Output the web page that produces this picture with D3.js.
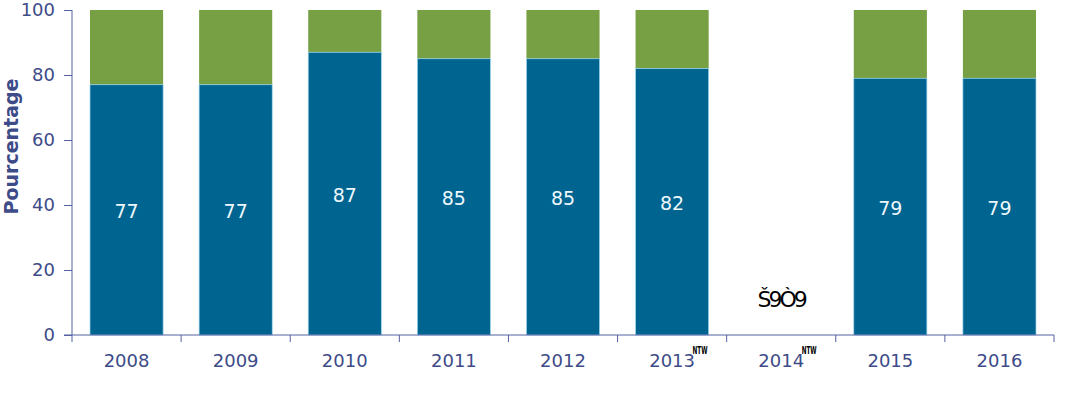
<!DOCTYPE html>
<html>
<head>
<meta charset="utf-8">
<script src="https://cdn.jsdelivr.net/npm/d3@7"></script>
<style>
  body { margin: 0; background: #fff; }
  text { font-family: "DejaVu Sans", Verdana, sans-serif; }
</style>
</head>
<body>
<div id="chart"></div>
<script>
// data
const years = ["2008", "2009", "2010", "2011", "2012", "2013", "2014", "2015", "2016"];
const notes = ["", "", "", "", "", "NTW", "NTW", "", ""];
const mainValues = [77, 77, 87, 85, 85, 82, null, 79, 79];
const yTicks = [0, 20, 40, 60, 80, 100];
const missingLabel = "Š9Ò9";

const margin = {top: 10, right: 15, bottom: 72, left: 72},
    width = 1069 - margin.left - margin.right,
    height = 407 - margin.top - margin.bottom;

const blue = "#006490", green = "#76a043", axisColor = "#3d4b88", tickColor = "#5560a0";

const svg = d3.select("#chart")
  .append("svg")
    .attr("width", 1069)
    .attr("height", 407)
  .append("g")
    .attr("transform", `translate(${margin.left},${margin.top})`);

const x = d3.scaleBand()
  .domain(years)
  .range([0, width])
  .paddingInner(0.33)
  .paddingOuter(0.165);

const y = d3.scaleLinear()
  .domain([0, 100])
  .range([height, 0]);

const rows = years.map((yr, i) => ({year: yr, v: mainValues[i], note: notes[i]}));
const bars = rows.filter(d => d.v !== null);

// green remainder on top
svg.append("g")
  .selectAll("rect")
  .data(bars)
  .join("rect")
    .attr("x", d => x(d.year))
    .attr("y", y(100))
    .attr("width", x.bandwidth())
    .attr("height", d => y(d.v) - y(100))
    .attr("fill", green);

// blue main part
svg.append("g")
  .selectAll("rect")
  .data(bars)
  .join("rect")
    .attr("x", d => x(d.year))
    .attr("y", d => y(d.v))
    .attr("width", x.bandwidth())
    .attr("height", d => y(0) - y(d.v))
    .attr("fill", blue)
    .attr("stroke", "#9fd8ef")
    .attr("stroke-width", 0.7);

svg.append("g")
  .selectAll("text")
  .data(bars)
  .join("text")
    .attr("x", d => x(d.year) + x.bandwidth() / 2)
    .attr("y", d => (y(d.v) + y(0)) / 2 + 1.5)
    .attr("dy", "0.35em")
    .attr("text-anchor", "middle")
    .attr("fill", "#eef8fc")
    .style("font-size", "19px")
    .text(d => d.v);

// label for the missing year
svg.append("text")
  .attr("x", x("2014") + x.bandwidth() / 2)
  .attr("y", y(11))
  .attr("dy", "0.35em")
  .attr("text-anchor", "middle")
  .attr("fill", "#000")
  .style("font-size", "22px")
  .style("letter-spacing", "-3px")
  .text(missingLabel);

// y axis
const yAxis = svg.append("g")
  .call(d3.axisLeft(y).tickValues(yTicks).tickSize(7).tickSizeOuter(0));
yAxis.select(".domain").attr("stroke", tickColor).attr("d", `M0,${height + 7}V0`);
yAxis.selectAll(".tick line").attr("stroke", tickColor).attr("x1", -8).attr("x2", 0);
yAxis.selectAll(".tick text")
  .attr("fill", axisColor)
  .attr("x", -17)
  .style("font-size", "18px");

// x axis
const xAxis = svg.append("g")
  .attr("transform", `translate(0,${height})`)
  .call(d3.axisBottom(x).tickSize(0).tickSizeOuter(0));
xAxis.select(".domain").attr("stroke", tickColor).attr("d", `M-8,0H${width}`);
xAxis.selectAll(".tick text")
  .attr("fill", axisColor)
  .attr("y", 19)
  .attr("dy", "0.71em")
  .style("font-size", "18px");

// category separators
const step = x.step(), gap = step * x.paddingInner() / 2;
svg.append("g")
  .selectAll("line")
  .data(years.slice(1).map(d => x(d) - gap).concat([width]))
  .join("line")
    .attr("x1", d => d)
    .attr("x2", d => d)
    .attr("y1", height)
    .attr("y2", height + 7)
    .attr("stroke", tickColor);

// superscript notes, placed after each year label
xAxis.selectAll(".tick")
  .filter(d => notes[years.indexOf(d)])
  .each(function(d) {
    const t = d3.select(this);
    const w = t.select("text").node().getComputedTextLength();
    t.append("text")
      .attr("x", w / 2 + 5)
      .attr("y", 19)
      .attr("fill", "#000")
      .style("font-size", "11px")
      .style("font-weight", "bold")
      .style("font-family", "'DejaVu Sans Condensed', 'Liberation Sans Narrow', sans-serif")
      .attr("textLength", 15)
      .attr("lengthAdjust", "spacingAndGlyphs")
      .text(notes[years.indexOf(d)]);
  });

// y axis title
svg.append("text")
  .attr("transform", `translate(${-margin.left + 18},${y(58)}) rotate(-90)`)
  .attr("text-anchor", "middle")
  .attr("fill", axisColor)
  .style("font-size", "19px")
  .style("font-weight", "bold")
  .text("Pourcentage");
</script>
</body>
</html>
